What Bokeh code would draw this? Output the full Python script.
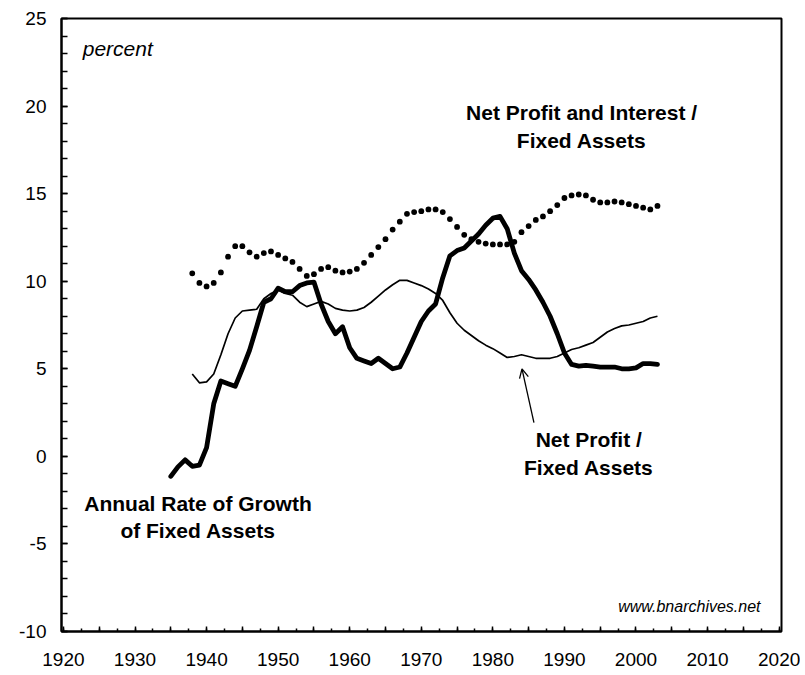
from bokeh.plotting import figure
from bokeh.models import Range1d, SingleIntervalTicker, Label, Arrow, OpenHead
from bokeh.embed import file_html
from bokeh.resources import INLINE

# ---------------- data ----------------
growth_years = list(range(1935, 2004))
growth_vals = [
    -1.14, -0.6, -0.2, -0.57, -0.5, 0.5, 3.0, 4.3, 4.15, 4.0,      # 1935-1944
    5.0, 6.05, 7.4, 8.8, 9.0, 9.6, 9.4, 9.4, 9.75, 9.9,             # 1945-1954
    9.95, 8.7, 7.7, 7.0, 7.4, 6.2, 5.6, 5.45, 5.3, 5.6,             # 1955-1964
    5.3, 5.0, 5.1, 5.9, 6.8, 7.7, 8.3, 8.7, 10.2, 11.45,            # 1965-1974
    11.75, 11.9, 12.3, 12.7, 13.2, 13.6, 13.7, 13.0, 11.6, 10.6,    # 1975-1984
    10.1, 9.5, 8.8, 8.0, 7.0, 5.9, 5.25, 5.15, 5.2, 5.15,           # 1985-1994
    5.1, 5.1, 5.1, 5.0, 5.0, 5.05, 5.3, 5.3, 5.25,                  # 1995-2003
]

profit_years = list(range(1938, 2004))
profit_vals = [
    4.7, 4.2, 4.25, 4.7, 5.8, 7.0, 7.9, 8.3, 8.35, 8.4,             # 1938-1947
    9.0, 9.3, 9.5, 9.3, 9.2, 8.8, 8.55, 8.7, 8.85, 8.7,             # 1948-1957
    8.45, 8.35, 8.3, 8.35, 8.5, 8.8, 9.15, 9.5, 9.8, 10.05,         # 1958-1967
    10.05, 9.9, 9.75, 9.55, 9.3, 8.9, 8.2, 7.6, 7.2, 6.9,           # 1968-1977
    6.6, 6.35, 6.15, 5.9, 5.65, 5.7, 5.8, 5.7, 5.6, 5.6,            # 1978-1987
    5.6, 5.7, 5.9, 6.1, 6.2, 6.35, 6.5, 6.8, 7.1, 7.3,              # 1988-1997
    7.45, 7.5, 7.6, 7.7, 7.9, 8.0,                                  # 1998-2003
]

pi_years = list(range(1938, 2004))
pi_vals = [
    10.45, 9.9, 9.7, 9.9, 10.5, 11.4, 12.0, 12.0, 11.65, 11.4,      # 1938-1947
    11.6, 11.7, 11.5, 11.3, 11.1, 10.7, 10.3, 10.4, 10.7, 10.8,     # 1948-1957
    10.6, 10.5, 10.55, 10.7, 11.05, 11.5, 11.95, 12.4, 12.95, 13.4, # 1958-1967
    13.85, 13.95, 14.0, 14.1, 14.1, 13.95, 13.55, 13.1, 12.65, 12.4,# 1968-1977
    12.25, 12.15, 12.1, 12.1, 12.1, 12.25, 12.8, 13.15, 13.5, 13.7, # 1978-1987
    14.0, 14.35, 14.75, 14.9, 14.95, 14.9, 14.65, 14.5, 14.5, 14.55,# 1988-1997
    14.5, 14.4, 14.3, 14.2, 14.1, 14.3,                             # 1998-2003
]

x_tick_labels = {y: (str(y) if y % 10 == 0 else "") for y in range(1920, 2021, 5)}
y_tick_labels = {v: str(v) for v in range(-10, 26, 5)}

FONT = "Liberation Sans"

# ---------------- figure ----------------
p = figure(
    width=800, height=675,
    x_range=Range1d(1919.73, 2020.33), y_range=Range1d(-10, 25),
    output_backend="svg", toolbar_location=None,
    min_border_left=61, min_border_right=19, min_border_top=18, min_border_bottom=44,
)
p.background_fill_color = "white"
p.border_fill_color = "white"
p.xgrid.visible = False
p.ygrid.visible = False
p.outline_line_color = "black"
p.outline_line_width = 2
p.outline_line_alpha = 1.0

xa = p.xaxis[0]
xa.ticker = SingleIntervalTicker(interval=5, num_minor_ticks=2)
xa.major_label_overrides = x_tick_labels
xa.major_tick_in = 5
xa.major_tick_out = 0
xa.minor_tick_in = 3
xa.minor_tick_out = 0
xa.axis_line_width = 2
xa.major_tick_line_width = 1.5
xa.minor_tick_line_width = 1.5
xa.major_label_text_font = FONT
xa.major_label_text_font_size = "19px"
xa.major_label_text_color = "black"
xa.major_label_standoff = 21

ya = p.yaxis[0]
ya.ticker = SingleIntervalTicker(interval=5, num_minor_ticks=5)
ya.major_label_overrides = y_tick_labels
ya.major_tick_in = 6
ya.major_tick_out = 0
ya.minor_tick_in = 6
ya.minor_tick_out = 0
ya.axis_line_width = 2
ya.major_tick_line_width = 1.5
ya.minor_tick_line_width = 1.5
ya.major_label_text_font = FONT
ya.major_label_text_font_size = "19px"
ya.major_label_text_color = "black"
ya.major_label_standoff = 15

# ---------------- series ----------------
p.line(profit_years, profit_vals, line_color="black", line_width=1.7, line_join="round")
p.line(growth_years, growth_vals, line_color="black", line_width=4.8, line_join="round", line_cap="round")
p.scatter(pi_years, pi_vals, size=5.8, color="black", line_width=0)

# ---------------- annotations ----------------
def add_label(x, y, text, style="bold", size="21px", align="center"):
    p.add_layout(Label(x=x, y=y, text=text, text_font=FONT, text_font_style=style,
                       text_font_size=size, text_align=align, text_baseline="alphabetic",
                       text_color="black"))

add_label(1922.7, 23.26, "percent", style="italic", align="left")
add_label(1992.4, 19.65, "Net Profit and Interest /")
add_label(1992.4, 18.03, "Fixed Assets")
add_label(1993.4, 0.95, "Net Profit /")
add_label(1993.4, -0.65, "Fixed Assets")
add_label(1938.8, -2.71, "Annual Rate of Growth")
add_label(1938.8, -4.25, "of Fixed Assets")
add_label(2017.4, -8.6, "www.bnarchives.net", style="italic", size="16px", align="right")

p.add_layout(Arrow(end=OpenHead(size=9, line_width=1.3, line_color="black"),
                   x_start=1985.74, y_start=1.92, x_end=1984.07, y_end=5.0,
                   line_width=1.3, line_color="black"))

open("out.html", "w").write(file_html(p, INLINE))
